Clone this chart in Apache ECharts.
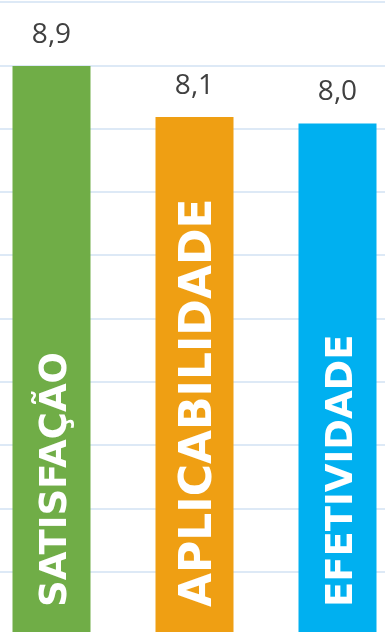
<!DOCTYPE html>
<html>
<head>
<meta charset="utf-8">
<style>
  html, body { margin: 0; padding: 0; background: #ffffff; }
  #chart { width: 385px; height: 632px; }
</style>
<script src="https://cdn.jsdelivr.net/npm/echarts@6/dist/echarts.min.js"></script>
</head>
<body>
<div id="chart"></div>
<script>
// Indicator names and scores (0–10 scale)
const categories = ['SATISFAÇÃO', 'APLICABILIDADE', 'EFETIVIDADE'];
const scores = [8.9, 8.1, 8.0];
const barColors = ['#70ad47', '#ef9f13', '#00b0f0'];
// Font size of each vertical name written inside its bar
const nameSizes = [37, 44, 37];

const chart = echarts.init(document.getElementById('chart'));

const fmt = v => v.toFixed(1).replace('.', ',');

chart.setOption({
  animation: false,
  grid: { left: -20, width: 429, top: 2, height: 633, outerBoundsMode: 'none', containLabel: false },
  xAxis: {
    type: 'category',
    data: categories,
    axisLine: { show: false },
    axisTick: { show: false },
    axisLabel: { show: false }
  },
  yAxis: {
    type: 'value',
    min: 0,
    max: 9.9,
    interval: 0.99,
    axisLabel: { show: false },
    axisLine: { show: false },
    axisTick: { show: false },
    splitLine: { lineStyle: { color: '#dde9f6', width: 2 } }
  },
  series: [
    {
      type: 'bar',
      barWidth: 78,
      data: scores.map((v, i) => ({ value: v, itemStyle: { color: barColors[i] } })),
      label: {
        show: true,
        position: 'top',
        distance: 17,
        fontFamily: 'Open Sans',
        fontSize: 28,
        color: '#404040',
        formatter: p => fmt(p.value)
      }
    },
    {
      type: 'bar',
      barWidth: 78,
      barGap: '-100%',
      silent: true,
      data: scores.map((v, i) => ({
        value: v,
        itemStyle: { color: 'rgba(0,0,0,0)' },
        label: { fontSize: nameSizes[i] }
      })),
      label: {
        show: true,
        position: 'insideBottom',
        distance: 28,
        rotate: 90,
        align: 'left',
        verticalAlign: 'middle',
        offset: [0, 5],
        fontFamily: 'DejaVu Sans',
        fontWeight: 'bold',
        color: '#ffffff',
        formatter: p => categories[p.dataIndex]
      }
    }
  ]
});
</script>
</body>
</html>
